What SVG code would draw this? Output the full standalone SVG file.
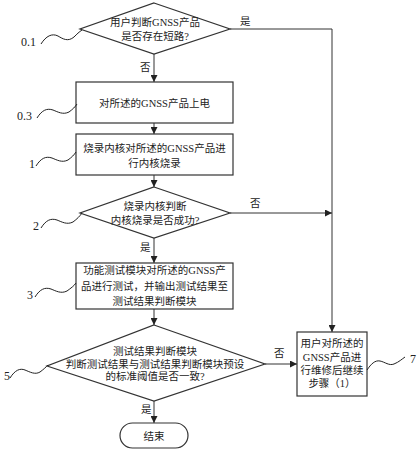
<svg xmlns="http://www.w3.org/2000/svg" width="418" height="450" viewBox="0 0 418 450">
<defs>
<marker id="arr" viewBox="0 0 10 10" refX="10" refY="5" markerWidth="7" markerHeight="7" markerUnits="userSpaceOnUse" orient="auto">
<path d="M0,0 L10,5 L0,10 z" fill="#222"/>
</marker>
<style>
.shape{fill:#fff;stroke:#333;stroke-width:1.2}
.t{font-family:"Liberation Serif","Noto Sans CJK SC",serif;font-size:10.5px;fill:#222;text-anchor:middle}
.lbl{font-family:"Liberation Serif","Noto Sans CJK SC",serif;font-size:10.5px;fill:#222}
.num{font-family:"Liberation Serif",serif;font-size:12px;fill:#222}
.ln{fill:none;stroke:#333;stroke-width:1}
.sq{fill:none;stroke:#222;stroke-width:1}
</style>
</defs>
<rect width="418" height="450" fill="#fff"/>
<g id="connectors">
<path class="ln" d="M154,54 V82" marker-end="url(#arr)"/>
<path class="ln" d="M154,123 V134" marker-end="url(#arr)"/>
<path class="ln" d="M154,175 V187" marker-end="url(#arr)"/>
<path class="ln" d="M154,238 V263" marker-end="url(#arr)"/>
<path class="ln" d="M154,309 V325" marker-end="url(#arr)"/>
<path class="ln" d="M154,401 V423" marker-end="url(#arr)"/>
<path class="ln" d="M230,29 H332 V332" marker-end="url(#arr)"/>
<path class="ln" d="M230,213 H332" marker-end="url(#arr)"/>
<path class="ln" d="M265,364 H297" marker-end="url(#arr)"/>
<text class="lbl" x="240" y="25">是</text>
<text class="lbl" x="140" y="71">否</text>
<text class="lbl" x="250" y="207">否</text>
<text class="lbl" x="140" y="251">是</text>
<text class="lbl" x="274" y="357">否</text>
<text class="lbl" x="141" y="413">是</text>
</g>
<g id="n01">
<polygon class="shape" points="154,3 230,29 154,54 80,29"/>
<text class="t" x="155" y="26">用户判断GNSS产品</text>
<text class="t" x="155" y="40">是否存在短路?</text>
</g>
<g id="n03">
<rect class="shape" x="76" y="82" width="157" height="41"/>
<text class="t" x="154.5" y="107">对所述的GNSS产品上电</text>
</g>
<g id="n1">
<rect class="shape" x="76" y="134" width="157" height="41"/>
<text class="t" x="154.5" y="152">烧录内核对所述的GNSS产品进</text>
<text class="t" x="154.5" y="167">行内核烧录</text>
</g>
<g id="n2">
<polygon class="shape" points="154,187 230,213 154,238 80,213"/>
<text class="t" x="155" y="210">烧录内核判断</text>
<text class="t" x="155" y="224">内核烧录是否成功?</text>
</g>
<g id="n3">
<rect class="shape" x="76" y="263" width="157" height="46"/>
<text class="t" x="154.5" y="274">功能测试模块对所述的GNSS产</text>
<text class="t" x="154.5" y="290">品进行测试，并输出测试结果至</text>
<text class="t" x="154.5" y="305">测试结果判断模块</text>
</g>
<g id="n5">
<polygon class="shape" points="154,325 265,364 154,401 47,366"/>
<text class="t" x="155" y="355">测试结果判断模块</text>
<text class="t" x="155" y="368">判断测试结果与测试结果判断模块预设</text>
<text class="t" x="155" y="380">的标准阈值是否一致?</text>
</g>
<g id="n7">
<rect class="shape" x="297" y="332" width="70" height="64"/>
<text class="t" x="332" y="347">用户对所述的</text>
<text class="t" x="332" y="361">GNSS产品进</text>
<text class="t" x="332" y="374">行维修后继续</text>
<text class="t" x="332" y="387">步骤（1）</text>
</g>
<g id="end">
<rect class="shape" x="120" y="423" width="68" height="25" rx="12.5"/>
<text class="t" x="154" y="440">结束</text>
</g>
<g id="labels">
<text class="num" x="21" y="46">0.1</text>
<path class="sq" d="M41,44 C46,36 52,33 58,36 C63,39 68,42 74,37 C77,34 79,32 82,30"/>
<text class="num" x="17" y="120">0.3</text>
<path class="sq" d="M37,118 C42,110 47,108 53,110 C58,112 63,115 69,112 C73,109 75,107 77,104"/>
<text class="num" x="29" y="168">1</text>
<path class="sq" d="M36,166 C41,158 46,156 52,158 C57,160 62,163 68,160 C72,157 74,155 76,152"/>
<text class="num" x="33" y="230">2</text>
<path class="sq" d="M41,228 C46,220 51,218 57,220 C62,222 67,225 73,222 C77,219 80,216 82,213"/>
<text class="num" x="27" y="299">3</text>
<path class="sq" d="M35,297 C40,289 45,287 51,289 C56,291 61,294 67,291 C71,288 74,286 76,283"/>
<text class="num" x="4" y="380">5</text>
<path class="sq" d="M10,378 C15,370 20,368 25,370 C30,372 35,375 40,372 C44,369 46,367 48,365"/>
<text class="num" x="410" y="363">7</text>
<path class="sq" d="M367,370 C371,364 375,360 380,361 C385,362 389,366 394,364 C399,362 402,359 405,357"/>
</g>
</svg>
